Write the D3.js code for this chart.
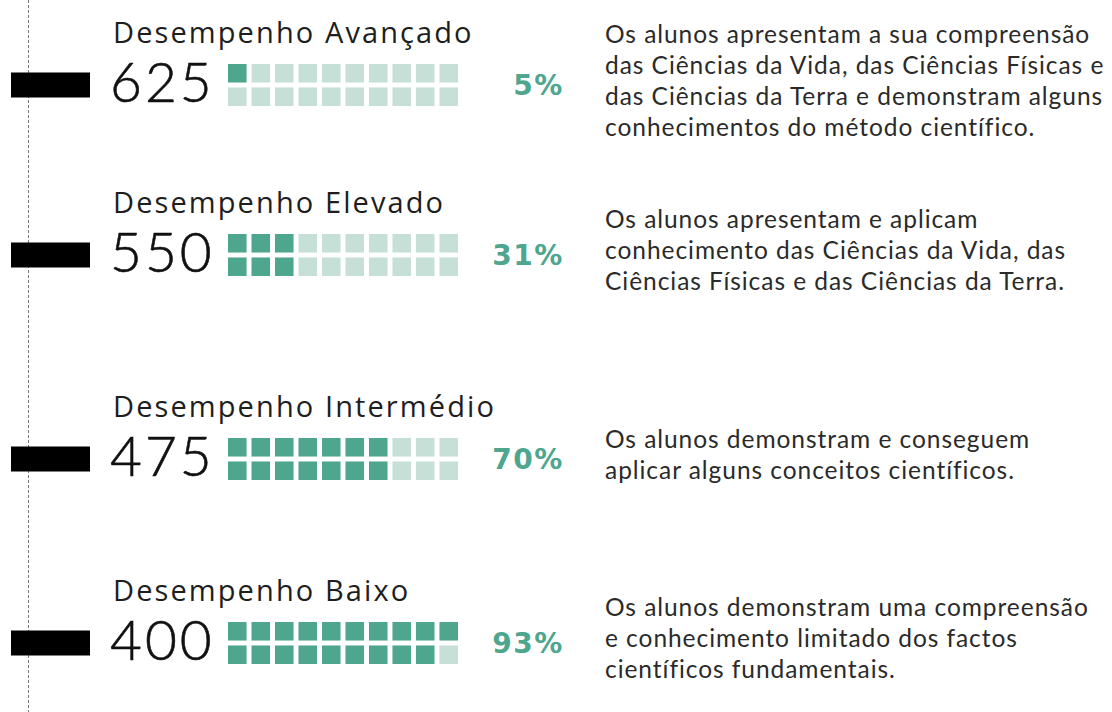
<!DOCTYPE html>
<html>
<head>
<meta charset="utf-8">
<script src="https://cdn.jsdelivr.net/npm/d3@7"></script>
<style>
  body { margin: 0; background: #fff; }
  svg { display: block; }
</style>
</head>
<body>
<div id="chart"></div>
<script>
// PISA-style performance levels: score, share of students at or above, description
const levels = ["Desempenho Avançado", "Desempenho Elevado", "Desempenho Intermédio", "Desempenho Baixo"];
const scores = [625, 550, 475, 400];
const percents = [5, 31, 70, 93];
const descriptions = [
  ["Os alunos apresentam a sua compreensão", "das Ciências da Vida, das Ciências Físicas e", "das Ciências da Terra e demonstram alguns", "conhecimentos do método científico."],
  ["Os alunos apresentam e aplicam", "conhecimento das Ciências da Vida, das", "Ciências Físicas e das Ciências da Terra."],
  ["Os alunos demonstram e conseguem", "aplicar alguns conceitos científicos."],
  ["Os alunos demonstram uma compreensão", "e conhecimento limitado dos factos", "científicos fundamentais."]
];

const width = 1112, height = 712;
const dark = "#4ea68e", light = "#c6e0d8";
const font = "Lato, 'Open Sans', sans-serif";

// vertical centre of each level's row
const rowY = d3.scaleOrdinal(levels, [85, 255, 459, 643]);

// waffle: 2 rows x 10 columns, each cell = 5%
const cols = d3.range(10), rows = d3.range(2);
const x = d3.scaleBand(cols, [228, 458]).paddingInner(0.21);
const y = d3.scaleBand(rows, [-21, 21]).paddingInner(0.21);

const svg = d3.select("#chart").append("svg")
    .attr("width", width)
    .attr("height", height);

svg.append("line")
    .attr("x1", 28.5).attr("x2", 28.5)
    .attr("y1", 0).attr("y2", height)
    .attr("stroke", "#777")
    .attr("stroke-width", 1)
    .attr("stroke-dasharray", "3,2");

const g = svg.selectAll("g.level")
  .data(levels)
  .join("g")
    .attr("class", "level")
    .attr("transform", d => `translate(0,${rowY(d)})`);

g.append("rect")
    .attr("x", 11)
    .attr("y", -12.5)
    .attr("width", 79)
    .attr("height", 25)
    .attr("fill", "#000");

g.append("text")
    .attr("x", 113)
    .attr("y", -42)
    .attr("font-family", "'Open Sans', sans-serif")
    .attr("font-size", 29)
    .attr("letter-spacing", 2.1)
    .attr("fill", "#1e1e1e")
    .text(d => d);

g.append("text")
    .attr("x", 110)
    .attr("y", 17)
    .attr("font-family", font)
    .attr("font-weight", 300)
    .attr("font-size", 55)
    .attr("letter-spacing", 3)
    .attr("stroke", "#111")
    .attr("stroke-width", 0.6)
    .attr("fill", "#111")
    .text((d, i) => scores[i]);

g.each(function(d, i) {
  const filled = Math.round(percents[i] / 5);
  const cells = d3.range(20).map(k => ({col: Math.floor(k / 2), row: k % 2, on: k < filled}));
  d3.select(this).selectAll("rect.cell")
    .data(cells)
    .join("rect")
      .attr("class", "cell")
      .attr("x", c => x(c.col))
      .attr("y", c => y(c.row))
      .attr("width", x.bandwidth())
      .attr("height", y.bandwidth())
      .attr("fill", c => c.on ? dark : light);
});

g.append("text")
    .attr("x", 564)
    .attr("y", 10)
    .attr("text-anchor", "end")
    .attr("font-family", "'DejaVu Sans', sans-serif")
    .attr("font-weight", 700)
    .attr("font-size", 28)
    .attr("letter-spacing", 1.6)
    .attr("fill", dark)
    .text((d, i) => percents[i] + "%");

const lineH = 31;
g.append("text")
    .attr("font-family", font)
    .attr("font-size", 24.5)
    .attr("letter-spacing", 0.95)
    .attr("fill", "#2a2a2a")
    .each(function(d, i) {
      const lines = descriptions[i];
      const y0 = -((lines.length - 1) * lineH) / 2 + 4;
      d3.select(this).selectAll("tspan")
        .data(lines)
        .join("tspan")
          .attr("x", 605)
          .attr("y", (l, j) => y0 + j * lineH)
          .text(l => l);
    });
</script>
</body>
</html>
